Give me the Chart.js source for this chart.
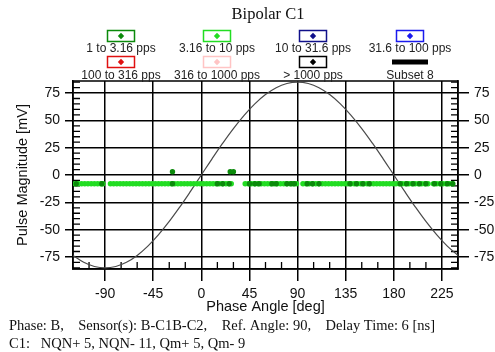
<!DOCTYPE html>
<html>
<head>
<meta charset="utf-8">
<script src="https://cdn.jsdelivr.net/npm/chart.js@4.4.1/dist/chart.umd.min.js"></script>
<style>
  html, body { margin: 0; padding: 0; background: #fff; }
  #wrap { width: 495px; height: 352px; position: relative; }
</style>
</head>
<body>
<div id="wrap"><canvas id="pdchart"></canvas></div>
<script>
// legend entries (8 subsets)
var seriesLabels = ['1 to 3.16 pps', '3.16 to 10 pps', '10 to 31.6 pps', '31.6 to 100 pps',
  '100 to 316 pps', '316 to 1000 pps', '> 1000 pps', 'Subset 8'];
var seriesColors = ['#0b8a0b', '#22dd22', '#10108a', '#1a1aee', '#e01010', '#ffc4c4', '#000000', '#000000'];

// 1 to 3.16 pps
var darkPhase = [-117, -93, -27, 15, 20, 26, 45, 50, 54, 66, 70, 80, 84, 87, 99, 104, 110,
  139, 145, 151, 157, 186, 192, 198, 204, 210, 218, 224, 230, 235,
  -27, 27, 30];
var darkMag = [-8, -8, -8, -8, -8, -8, -8, -8, -8, -8, -8, -8, -8, -8, -8, -8, -8,
  -8, -8, -8, -8, -8, -8, -8, -8, -8, -8, -8, -8, -8,
  3, 3, 3];

// 3.16 to 10 pps
var brightPhase = [
  -118, -115, -112, -109, -106, -103, -100, -97, -94, -92,
  -85, -82, -79, -76, -73, -70, -67, -64, -61, -58, -55, -52, -49, -46, -43, -40, -37, -34, -31,
  -28, -25, -22, -19, -16, -13, -10, -7, -4, -1, 2, 5, 8, 11, 14, 17, 20, 23, 26, 28,
  41, 44, 47, 50, 53, 56, 59, 62, 65, 68, 71, 74, 77, 80, 83, 86, 89,
  95, 98, 101, 104, 107, 110, 113, 116, 119, 122, 125, 128, 131, 134, 137, 140, 143, 146, 149, 152,
  155, 158, 161, 164, 167, 170, 173, 176, 179, 182, 185, 188, 191, 194, 197, 200, 203, 206, 209, 212,
  217, 220, 223, 226, 229, 232, 235];
var brightMag = [
  -8, -8, -8, -8, -8, -8, -8, -8, -8, -8,
  -8, -8, -8, -8, -8, -8, -8, -8, -8, -8, -8, -8, -8, -8, -8, -8, -8, -8, -8,
  -8, -8, -8, -8, -8, -8, -8, -8, -8, -8, -8, -8, -8, -8, -8, -8, -8, -8, -8, -8,
  -8, -8, -8, -8, -8, -8, -8, -8, -8, -8, -8, -8, -8, -8, -8, -8, -8,
  -8, -8, -8, -8, -8, -8, -8, -8, -8, -8, -8, -8, -8, -8, -8, -8, -8, -8, -8, -8,
  -8, -8, -8, -8, -8, -8, -8, -8, -8, -8, -8, -8, -8, -8, -8, -8, -8, -8, -8, -8,
  -8, -8, -8, -8, -8, -8, -8];

// reference sine (Subset 8)
var refPhase = [-120, -110, -100, -90, -80, -70, -60, -50, -40, -30, -20, -10, 0, 10, 20, 30, 40, 50, 60,
  70, 80, 90, 100, 110, 120, 130, 140, 150, 160, 170, 180, 190, 200, 210, 220, 230, 240];
var refMag = [-73.6, -79.9, -83.7, -85, -83.7, -79.9, -73.6, -65.1, -54.6, -42.5, -29.1, -14.8, 0, 14.8, 29.1,
  42.5, 54.6, 65.1, 73.6, 79.9, 83.7, 85, 83.7, 79.9, 73.6, 65.1, 54.6, 42.5, 29.1, 14.8, 0,
  -14.8, -29.1, -42.5, -54.6, -65.1, -73.6];

var xTicks = [-90, -45, 0, 45, 90, 135, 180, 225];
var yTicks = [-75, -50, -25, 0, 25, 50, 75];
var chartTitle = 'Bipolar C1';
var footerLines = ['Phase: B,    Sensor(s): B-C1B-C2,    Ref. Angle: 90,    Delay Time: 6 [ns]',
  'C1:   NQN+ 5, NQN- 11, Qm+ 5, Qm- 9'];

function toPoints(xs, ys) {
  var pts = [];
  for (var i = 0; i < xs.length; i++) {
    pts.push({ x: xs[i], y: ys[i] });
  }
  return pts;
}

var datasets = [];
for (var i = 0; i < seriesLabels.length; i++) {
  var d = [];
  if (i == 0) d = toPoints(darkPhase, darkMag);
  if (i == 1) d = toPoints(brightPhase, brightMag);
  if (i == 7) d = toPoints(refPhase, refMag);
  datasets.push({
    label: seriesLabels[i],
    data: d,
    backgroundColor: seriesColors[i],
    borderColor: seriesColors[i],
    pointRadius: i == 7 ? 0 : 2.7,
    pointBorderWidth: 0,
    showLine: i == 7,
    borderWidth: 1
  });
}
datasets[7].borderColor = '#4a4a4a';
datasets[7].borderWidth = 1.2;
datasets[7].tension = 0.4;

var tickFont = { family: 'Liberation Sans', size: 14 };
var titleFont = { family: 'Liberation Sans', size: 14.5 };

function fixTicks(list) {
  return function (scale) {
    scale.ticks = list.map(function (v) { return { value: v }; });
  };
}

// minor ticks, top border, title, legend and footer
var framePlugin = {
  id: 'frame',
  beforeDatasetsDraw: function (chart) {
    var c = chart.ctx, a = chart.chartArea;
    var xs = chart.scales.x, ys = chart.scales.y;
    c.save();
    c.strokeStyle = '#000';
    c.lineWidth = 1.3;
    c.beginPath();
    for (var v = -105; v < 240; v += 15) {
      if (v % 45 == 0) continue;
      var px = xs.getPixelForValue(v);
      c.moveTo(px, a.bottom);
      c.lineTo(px, a.bottom - 7);
    }
    for (var w = -85; w <= 85; w += 5) {
      if (w % 25 == 0) continue;
      var py = ys.getPixelForValue(w);
      c.moveTo(a.left, py);
      c.lineTo(a.left + 7, py);
      c.moveTo(a.right, py);
      c.lineTo(a.right - 7, py);
    }
    c.stroke();
    c.lineWidth = 1.5;
    c.strokeRect(a.left, a.top, a.right - a.left, a.bottom - a.top);
    c.restore();
  },
  afterDraw: function (chart) {
    var c = chart.ctx;
    var colX = [121, 217, 313, 410];
    var boxY = [36, 62];
    var textY = [49, 76];
    c.save();
    c.textBaseline = 'middle';
    c.textAlign = 'center';
    c.fillStyle = '#111';
    c.font = '16.5px "Liberation Serif"';
    c.fillText(chartTitle, 268, 15);
    c.font = '12px "Liberation Sans"';
    for (var i = 0; i < seriesLabels.length; i++) {
      var cx = colX[i % 4], r = Math.floor(i / 4);
      var col = seriesColors[i];
      if (i == 7) {
        c.fillStyle = col;
        c.fillRect(cx - 18, boxY[r] - 2.5, 36, 5);
      } else {
        c.strokeStyle = col;
        c.lineWidth = 1.5;
        c.strokeRect(cx - 13.5, boxY[r] - 5.5, 27, 11);
        c.fillStyle = col;
        c.beginPath();
        c.moveTo(cx, boxY[r] - 3.2);
        c.lineTo(cx + 3.2, boxY[r]);
        c.lineTo(cx, boxY[r] + 3.2);
        c.lineTo(cx - 3.2, boxY[r]);
        c.closePath();
        c.fill();
      }
      c.fillStyle = '#222';
      c.fillText(seriesLabels[i], cx, textY[r]);
    }
    c.font = '14.5px "Liberation Serif"';
    c.textAlign = 'left';
    c.fillStyle = '#111';
    c.fillText(footerLines[0], 9, 326);
    c.fillText(footerLines[1], 9, 344);
    c.restore();
  }
};

new Chart(document.getElementById('pdchart'), {
  type: 'scatter',
  data: { datasets: datasets },
  options: {
    responsive: true,
    maintainAspectRatio: false,
    animation: false,
    layout: { padding: { top: 81, left: 0, right: 0, bottom: 36 } },
    plugins: {
      legend: { display: false },
      tooltip: { enabled: false }
    },
    scales: {
      x: {
        type: 'linear',
        min: -120,
        max: 240,
        afterBuildTicks: fixTicks(xTicks),
        afterFit: function (s) { s.height = 47; },
        grid: { color: '#000', lineWidth: 1.5, tickLength: 12 },
        border: { display: true, color: '#000', width: 1.5 },
        ticks: { font: tickFont, color: '#111', padding: 5, maxRotation: 0 },
        title: { display: true, text: 'Phase Angle [deg]', color: '#111', font: titleFont, padding: { top: 0, bottom: 0 } }
      },
      y: {
        position: 'left',
        min: -86,
        max: 86,
        afterBuildTicks: fixTicks(yTicks),
        afterFit: function (s) { s.width = 73; },
        grid: { color: '#000', lineWidth: 1.5, tickLength: 8 },
        border: { display: true, color: '#000', width: 1.5 },
        ticks: { font: tickFont, color: '#111', padding: 5 },
        title: { display: true, text: 'Pulse Magnitude [mV]', color: '#111', font: titleFont, padding: { top: 14, bottom: 0 } }
      },
      y2: {
        position: 'right',
        min: -86,
        max: 86,
        afterBuildTicks: fixTicks(yTicks),
        afterFit: function (s) { s.width = 37; },
        grid: { color: '#000', lineWidth: 1.5, tickLength: 11, drawOnChartArea: false },
        border: { display: true, color: '#000', width: 1.5 },
        ticks: { font: tickFont, color: '#111', padding: 5 }
      }
    }
  },
  plugins: [framePlugin]
});
</script>
</body>
</html>
